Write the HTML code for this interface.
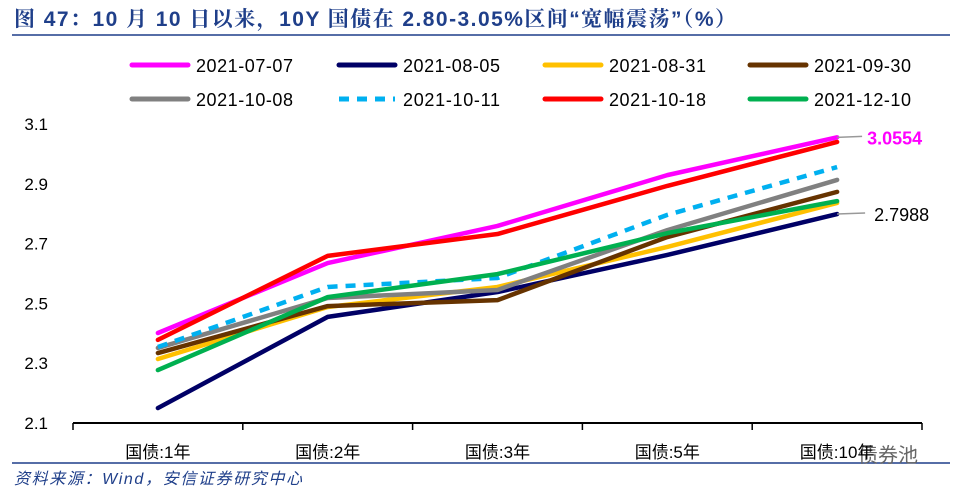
<!DOCTYPE html>
<html><head><meta charset="utf-8"><style>
body{margin:0;width:954px;height:501px;background:#fff;overflow:hidden;font-family:"Liberation Sans","Noto Sans CJK SC",sans-serif;}
svg{display:block}
</style></head><body>
<svg id="chart" width="954" height="501">
<text x="14" y="26" font-size="21" font-weight="bold" fill="#1f3f8a" textLength="722" lengthAdjust="spacing" font-family="Liberation Sans, Noto Serif CJK SC, serif">图 47：10 月 10 日以来，10Y 国债在 2.80-3.05%区间“宽幅震荡”（%）</text>
<line x1="12" y1="35" x2="950" y2="35" stroke="#1f3f8a" stroke-width="1.5"/>
<line x1="12" y1="463" x2="950" y2="463" stroke="#1f3f8a" stroke-width="1.5"/>
<text x="14" y="484" font-size="16" font-style="italic" fill="#1f3f8a" textLength="288" lengthAdjust="spacing">资料来源：Wind，安信证券研究中心</text>
<text x="858" y="462" font-size="20" fill="#666">债券池</text>
<g id="legend"></g><g id="axes"></g><g id="series"></g>
</svg>
<script>
const categories=["国债:1年","国债:2年","国债:3年","国债:5年","国债:10年"];
const seriesNames=["2021-07-07","2021-08-05","2021-08-31","2021-09-30","2021-10-08","2021-10-11","2021-10-18","2021-12-10"];
const s0707=[2.401,2.635,2.759,2.929,3.0554];
const s0805=[2.150,2.455,2.538,2.662,2.7988];
const s0831=[2.314,2.488,2.555,2.689,2.836];
const s0930=[2.334,2.491,2.511,2.722,2.873];
const s1008=[2.351,2.518,2.545,2.745,2.913];
const s1011=[2.354,2.555,2.585,2.796,2.956];
const s1018=[2.378,2.659,2.732,2.893,3.040];
const s1210=[2.277,2.521,2.598,2.735,2.842];
const yTicks=[2.1,2.3,2.5,2.7,2.9,3.1];
const allSeries=[s0707,s0805,s0831,s0930,s1008,s1011,s1018,s1210];
const colors=["#ff00ff","#000066","#ffc000","#663300","#808080","#00b0f0","#ff0000","#00b050"];
const NS="http://www.w3.org/2000/svg";
const x0=73,x1=922,yTop=124,yBot=423,yMin=2.1,yMax=3.1;
const band=(x1-x0)/categories.length;
function xs(i){return x0+band*(i+0.5);}
function ys(v){return yBot-(v-yMin)/(yMax-yMin)*(yBot-yTop);}
function mk(tag,attrs,parent){const e=document.createElementNS(NS,tag);for(const k in attrs)e.setAttribute(k,attrs[k]);parent.appendChild(e);return e;}
const axes=document.getElementById('axes');
const xa=mk('line',{x1:x0,y1:yBot,x2:x1,y2:yBot,stroke:'#000','stroke-width':2},axes);


for(let i=0;i<=categories.length;i++){
 const t=mk('line',{x1:x0+band*i,y1:yBot,x2:x0+band*i,y2:yBot+7,stroke:'#000','stroke-width':1.5},axes);
 
 
}
categories.forEach((c,i)=>{
 const t=mk('text',{x:xs(i),y:458,'font-size':17,'text-anchor':'middle',fill:'#000'},axes);
 t.textContent=c;
 
 
});
yTicks.forEach(v=>{
 const t=mk('text',{x:48,y:ys(v)+6,'font-size':17,'text-anchor':'end',fill:'#000'},axes);
 t.textContent=String(v);
 
 
});
const sg=document.getElementById('series');
allSeries.forEach((d,k)=>{
 const pts=d.map((v,i)=>xs(i)+','+ys(v)).join(' ');
 const a={points:pts,fill:'none',stroke:colors[k],'stroke-width':4.5,'stroke-linejoin':'round','stroke-linecap':'round'};
 if(k===5){a['stroke-dasharray']='10,8';a['stroke-linecap']='butt';}
 const p=mk('polyline',a,sg);
 
 
});
const lx=xs(4);
const l1=mk('line',{x1:lx,y1:ys(s0707[4]),x2:lx+25,y2:ys(s0707[4])-1,stroke:'#999','stroke-width':1.5},sg);


const t1=mk('text',{x:lx+30,y:ys(s0707[4])+7,'font-size':18,'font-weight':'bold',fill:'#ff00ff'},sg);
t1.textContent=String(s0707[4]);


const l2=mk('line',{x1:lx,y1:ys(s0805[4]),x2:lx+28,y2:ys(s0805[4])-1,stroke:'#999','stroke-width':1.5},sg);


const t2=mk('text',{x:lx+37,y:ys(s0805[4])+7,'font-size':18,fill:'#000'},sg);
t2.textContent=String(s0805[4]);


const lg=document.getElementById('legend');
const colX=[132,339,545,750];
seriesNames.forEach((n,k)=>{
 const cx=colX[k%4],cy=k<4?65:99;
 const a={x1:cx,y1:cy,x2:cx+56,y2:cy,stroke:colors[k],'stroke-width':5,'stroke-linecap':'round'};
 if(k===5){a['stroke-dasharray']='10,8';a['stroke-linecap']='butt';}
 const l=mk('line',a,lg);
 
 
 const t=mk('text',{x:cx+64,y:cy+7,'font-size':18,fill:'#000',textLength:97,lengthAdjust:'spacing'},lg);
 t.textContent=n;
 
 
});
</script>
</body></html>
